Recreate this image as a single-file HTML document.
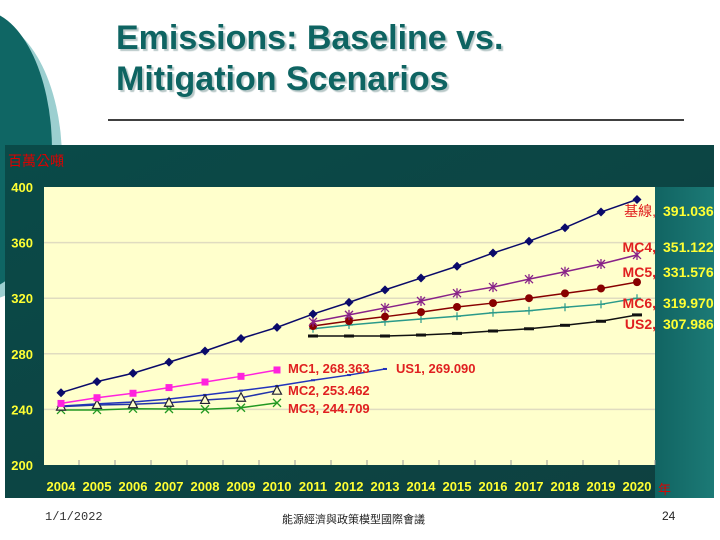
<!DOCTYPE html>
<html><head><meta charset="utf-8"><style>
body{margin:0;width:720px;height:540px;overflow:hidden;background:#fff;font-family:"Liberation Sans","Noto Sans CJK TC",sans-serif;position:relative}
.t{position:absolute}
.v{position:absolute;left:663px;font-size:14px;font-weight:bold;color:#ffff33;line-height:16px}
.l{position:absolute;right:64px;font-size:14px;font-weight:bold;color:#e02020;line-height:16px}
</style></head><body>
<svg width="720" height="540" style="position:absolute;left:0;top:0">
<defs>
<linearGradient id="pg" x1="0" y1="0" x2="1" y2="1"><stop offset="0" stop-color="#0a4a48"/><stop offset="1" stop-color="#0e4040"/></linearGradient>
<linearGradient id="rg" x1="0" y1="0" x2="1" y2="0"><stop offset="0" stop-color="#116462"/><stop offset="1" stop-color="#1c7a76"/></linearGradient>
</defs>
<ellipse cx="-14" cy="160" rx="76" ry="140" fill="#9ccfd0"/>
<ellipse cx="-20" cy="150" rx="72" ry="140" fill="#0f6664"/>
<line x1="108" y1="120" x2="684" y2="120" stroke="#000" stroke-width="1.5"/>
<rect x="5" y="145" width="709" height="353" fill="url(#pg)"/>
<rect x="655" y="187" width="59" height="311" fill="url(#rg)"/>
<g id="chart"></g>
</svg>
<div class="t" style="left:116px;top:18px;font-size:34px;font-weight:bold;color:#0e6462;line-height:41px;text-shadow:2px 2px 1px #b8c8c8">Emissions: Baseline vs.<br>Mitigation Scenarios</div>
<div class="t" style="left:8px;top:151px;font-size:14px;color:#d00">百萬公噸</div>
<div class="t" style="left:658px;top:479px;font-size:13px;color:#d00">年</div>
<div class="t" style="left:45px;top:510px;font-size:12px;color:#333;font-family:'Liberation Mono',monospace">1/1/2022</div>
<div class="t" style="left:282px;top:511px;font-size:11px;color:#222">能源經濟與政策模型國際會議</div>
<div class="t" style="left:662px;top:509px;font-size:12px;color:#222">24</div>
<script>
const years=[2004,2005,2006,2007,2008,2009,2010,2011,2012,2013,2014,2015,2016,2017,2018,2019,2020];
const yTicks=[200,240,280,320,360,400];
const baseline=[252,260,266,274,282,291,299,308.6,317,326,334.5,343,352.5,361,370.7,382,391.036];
const mc1=[244.3,248.4,251.6,255.7,259.7,263.8,268.363];
const mc2=[242,243.2,243.7,244.8,246.8,248.4,253.462];
const mc3=[239.6,239.6,240.5,240.3,240.1,241.2,244.709];
const us1=[242.4,244,245.3,247.5,250.4,253.5,256.8,261,264.7,269.09];
const mc4=[303,308,313,318,323.6,328,333.7,339,344.6,351.122];
const mc5=[300,303.6,306.7,310,313.7,316.5,320,323.5,327,331.576];
const mc6=[298,300.7,303,305,307,309.5,311,313.5,315.6,319.97];
const us2=[292.8,292.8,292.8,293.5,294.7,296.4,298,300.5,303.4,307.986];
const NS='http://www.w3.org/2000/svg';
const X=i=>61+i*36, Y=v=>465-(v-200)*1.39;
const g=document.getElementById('chart');
function el(t,a,p){const e=document.createElementNS(NS,t);for(const k in a)e.setAttribute(k,a[k]);(p||g).appendChild(e);return e;}
const plot=el('rect',{x:44,y:187,width:611,height:278,fill:'#ffffcc'});


yTicks.forEach(v=>{
 if(v>200&&v<400){const l=el('line',{x1:44,x2:655,y1:Y(v),y2:Y(v),stroke:'#e0dcc0','stroke-width':1.5});
 
 }
 const t=el('text',{x:33,y:Y(v)+5,'text-anchor':'end',fill:'#ffff33','font-size':13,'font-weight':'bold','font-family':'Liberation Sans'});t.textContent=v;
 
 
});
years.forEach((yr,i)=>{
 const t=el('text',{x:X(i),y:491,'text-anchor':'middle',fill:'#ffff33','font-size':13,'font-weight':'bold','font-family':'Liberation Sans'});t.textContent=yr;
 
 
 const tk=el('line',{x1:X(i)+18,x2:X(i)+18,y1:460,y2:465,stroke:'#999'});
 
 
});
function marker(type,x,y,c,gg){
 if(type==='diamond')el('path',{d:`M${x} ${y-4.5}L${x+4.5} ${y}L${x} ${y+4.5}L${x-4.5} ${y}Z`,fill:c},gg);
 else if(type==='square')el('rect',{x:x-3.5,y:y-3.5,width:7,height:7,fill:c},gg);
 else if(type==='tri')el('path',{d:`M${x} ${y-5}L${x+4.5} ${y+3.5}L${x-4.5} ${y+3.5}Z`,fill:'#ffffcc',stroke:'#223','stroke-width':1.2},gg);
 else if(type==='x')el('path',{d:`M${x-4} ${y-4}L${x+4} ${y+4}M${x+4} ${y-4}L${x-4} ${y+4}`,stroke:c,'stroke-width':1.3},gg);
 else if(type==='star')el('path',{d:`M${x-4} ${y-4}L${x+4} ${y+4}M${x+4} ${y-4}L${x-4} ${y+4}M${x} ${y-5}L${x} ${y+5}`,stroke:c,'stroke-width':1.3},gg);
 else if(type==='circle')el('circle',{cx:x,cy:y,r:4,fill:c},gg);
 else if(type==='plus')el('path',{d:`M${x-4} ${y}L${x+4} ${y}M${x} ${y-4}L${x} ${y+4}`,stroke:c,'stroke-width':1.2},gg);
 else if(type==='dash')el('rect',{x:x-5,y:y-1.5,width:10,height:3,fill:c},gg);
 else if(type==='dot')el('rect',{x:x-2,y:y-1,width:4,height:2,fill:c},gg);
}
function series(name,vals,start,color,type){
 const gg=el('g',{});
 
 
 const pts=vals.map((v,i)=>[X(start+i),Y(v)]);
 el('polyline',{points:pts.map(p=>p.join(',')).join(' '),fill:'none',stroke:color,'stroke-width':1.5},gg);
 pts.forEach(p=>marker(type,p[0],p[1],color,gg));
}
series('us1',us1,0,'#2233bb','dot');
series('mc3',mc3,0,'#229922','x');
series('mc2',mc2,0,'#2233aa','tri');
series('mc1',mc1,0,'#ff22dd','square');
series('us2',us2,7,'#111','dash');
series('mc6',mc6,7,'#2a9a8a','plus');
series('mc5',mc5,7,'#880000','circle');
series('mc4',mc4,7,'#882288','star');
series('baseline',baseline,0,'#0a0a6a','diamond');
</script>
<div class="t" style="left:288px;top:361px;font-size:13px;font-weight:bold;color:#e02020">MC1, 268.363</div>
<div class="t" style="left:396px;top:361px;font-size:13px;font-weight:bold;color:#e02020">US1, 269.090</div>
<div class="t" style="left:288px;top:383px;font-size:13px;font-weight:bold;color:#e02020">MC2, 253.462</div>
<div class="t" style="left:288px;top:401px;font-size:13px;font-weight:bold;color:#e02020">MC3, 244.709</div>
<div class="l" style="top:203px;font-weight:normal">基線,</div>
<div class="v" style="top:203px">391.036</div>
<div class="l" style="top:239px">MC4,</div>
<div class="v" style="top:239px">351.122</div>
<div class="l" style="top:264px">MC5,</div>
<div class="v" style="top:264px">331.576</div>
<div class="l" style="top:295px">MC6,</div>
<div class="v" style="top:295px">319.970</div>
<div class="l" style="top:316px">US2,</div>
<div class="v" style="top:316px">307.986</div>
</body></html>
